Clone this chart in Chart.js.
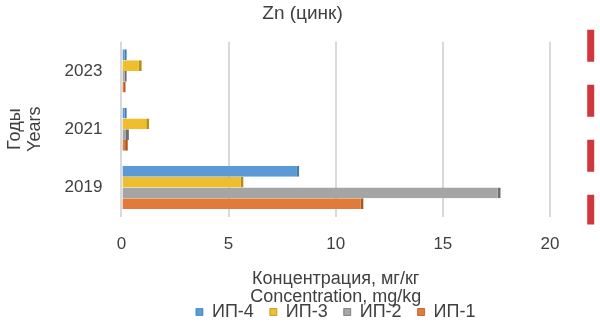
<!DOCTYPE html>
<html>
<head>
<meta charset="utf-8">
<script src="https://cdn.jsdelivr.net/npm/chart.js@4/dist/chart.umd.min.js"></script>
<style>
  html, body { margin: 0; padding: 0; background: #fff; }
  #wrap { width: 600px; height: 324px; }
</style>
</head>
<body>
<div id="wrap"><canvas id="znChart"></canvas></div>
<script>
const years = ['2023', '2021', '2019'];
const ip4 = [0.25, 0.25, 8.3];
const ip3 = [0.95, 1.3, 5.7];
const ip2 = [0.25, 0.35, 17.7];
const ip1 = [0.2, 0.3, 11.3];
const limitValue = 21.9;
const xTicks = [0, 5, 10, 15, 20];

const textColor = '#404040';
const font = { family: 'Liberation Sans, Arial, sans-serif', size: 17 };
const bigFont = { ...font, size: 18 };

// red dashed limit line, drawn at the x scale value of limitValue
const limitLine = {
  id: 'limitLine',
  afterDatasetsDraw(chart) {
    const { ctx, chartArea, scales } = chart;
    const x = scales.x.getPixelForValue(limitValue);
    ctx.save();
    ctx.strokeStyle = '#D0363B';
    ctx.lineWidth = 7;
    ctx.setLineDash([32, 23]);
    ctx.beginPath();
    ctx.moveTo(x, chartArea.top - 12);
    ctx.lineTo(x, chartArea.bottom + 8);
    ctx.stroke();
    ctx.restore();
  }
};

function ds(label, data, color, edge) {
  return {
    label,
    data,
    backgroundColor: color,
    borderColor: edge,
    borderWidth: { right: 3, top: 0, bottom: 0, left: 0 },
    borderSkipped: 'left',
    barPercentage: 1,
    categoryPercentage: 0.74
  };
}

new Chart(document.getElementById('znChart'), {
  type: 'bar',
  data: {
    labels: years,
    datasets: [
      ds('ИП-4', ip4, '#5B9BD5', '#3F7DB5'),
      ds('ИП-3', ip3, '#EEBE2E', '#B98F12'),
      ds('ИП-2', ip2, '#A5A5A5', '#6E6E6E'),
      ds('ИП-1', ip1, '#E07B39', '#A9561F')
    ]
  },
  options: {
    indexAxis: 'y',
    responsive: true,
    maintainAspectRatio: false,
    animation: false,
    layout: { padding: { top: 0, right: 0, bottom: -7, left: 5 } },
    plugins: {
      title: {
        display: true,
        text: 'Zn (цинк)',
        color: textColor,
        font: { ...font, size: 19, weight: 'normal' },
        padding: { top: 2, bottom: 17 }
      },
      legend: {
        position: 'bottom',
        fullSize: false,
        labels: {
          color: textColor,
          font: bigFont,
          boxWidth: 7,
          boxHeight: 7,
          padding: 16
        }
      },
      tooltip: { enabled: false }
    },
    scales: {
      x: {
        min: 0,
        max: 20,
        afterBuildTicks: axis => { axis.ticks = xTicks.map(v => ({ value: v })); },
        grid: { color: '#D9D9D9', lineWidth: 2, drawTicks: false },
        border: { display: false },
        ticks: { color: textColor, font: font, padding: 18 },
        title: {
          display: true,
          text: ['Концентрация, мг/кг', 'Concentration, mg/kg'],
          color: textColor,
          font: { ...bigFont, lineHeight: 1.0 },
          padding: { top: -3, bottom: -19 }
        }
      },
      y: {
        grid: { display: false, drawTicks: false },
        border: { display: false },
        ticks: { color: textColor, font: font, padding: 19 },
        title: {
          display: true,
          text: ['Годы', 'Years'],
          color: textColor,
          font: { ...bigFont, lineHeight: 1.1 },
          padding: { top: 0, bottom: 1 }
        }
      },
      // empty right-hand axis that keeps room for the limit line
      side: {
        axis: 'y',
        position: 'right',
        grid: { display: false, drawTicks: false },
        border: { display: false },
        ticks: { display: false },
        afterFit: scale => { scale.width = 50; }
      }
    }
  },
  plugins: [limitLine]
});
</script>
</body>
</html>
